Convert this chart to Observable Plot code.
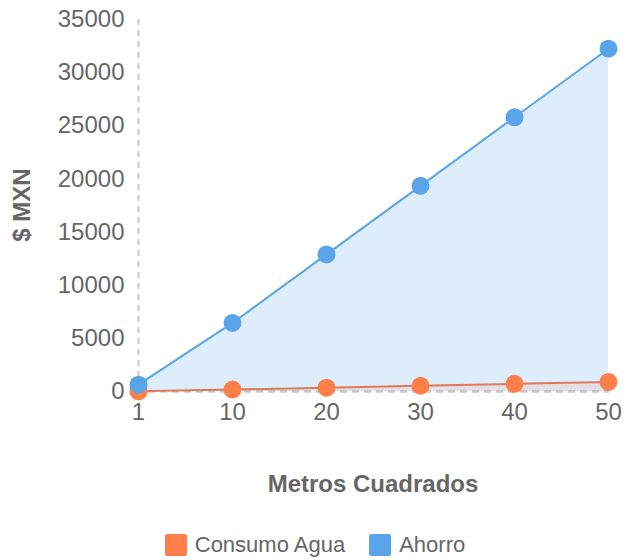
<!DOCTYPE html>
<html>
<head>
<meta charset="utf-8">
<script src="https://cdn.jsdelivr.net/npm/d3@7"></script>
<script src="https://cdn.jsdelivr.net/npm/@observablehq/plot@0.6"></script>
<style>
  body { margin: 0; background: #fff; font-family: "Liberation Sans", Arial, sans-serif; }
  #legend { display: flex; justify-content: center; gap: 24px; margin-top: 32px; margin-left: 4px; font-size: 22px; color: #666; }
  .item { display: flex; align-items: center; gap: 8px; }
  .sw { width: 22px; height: 22px; border-radius: 2px; }
</style>
</head>
<body>
<div id="chart"></div>
<div id="legend"></div>
<script>
const categories = ["1", "10", "20", "30", "40", "50"];
const consumoAgua = [18, 180, 360, 540, 720, 900];
const ahorro = [645, 6450, 12900, 19350, 25800, 32250];
const seriesNames = ["Consumo Agua", "Ahorro"];
const seriesColors = ["#FF7F4A", "#5AA5E9"];
const yTicks = [0, 5000, 10000, 15000, 20000, 25000, 30000, 35000];

const consumoData = categories.map((c, i) => ({x: c, y: consumoAgua[i]}));
const ahorroData = categories.map((c, i) => ({x: c, y: ahorro[i]}));

const chart = Plot.plot({
  width: 626,
  height: 500,
  marginLeft: 136,
  marginRight: 17,
  marginTop: 19,
  marginBottom: 109,
  style: {fontFamily: "'Liberation Sans', Arial, sans-serif", fontSize: "24px", color: "#666", background: "#fff"},
  x: {type: "point", domain: categories, padding: 0, axis: null},
  y: {domain: [0, 35000], axis: null},
  marks: [
    Plot.ruleX([categories[0]], {stroke: "#c8c8c8", strokeWidth: 2, strokeDasharray: "6,5"}),
    Plot.ruleY([0], {stroke: "#c8c8c8", strokeWidth: 2.5, strokeDasharray: "7,5"}),
    Plot.areaY(ahorroData, {x: "x", y: "y", fill: seriesColors[1], fillOpacity: 0.2}),
    Plot.areaY(consumoData, {x: "x", y: "y", fill: seriesColors[0], fillOpacity: 0.12}),
    Plot.line(consumoData, {x: "x", y: "y", stroke: "#E0785A", strokeWidth: 2}),
    Plot.line(ahorroData, {x: "x", y: "y", stroke: seriesColors[1], strokeWidth: 2}),
    Plot.dot(consumoData, {x: "x", y: "y", r: 9, fill: seriesColors[0]}),
    Plot.dot(ahorroData, {x: "x", y: "y", r: 9, fill: seriesColors[1]}),
    Plot.axisY(yTicks, {tickSize: 0, tickPadding: 12, fontSize: 24, fill: "#666", label: null, tickFormat: d => String(d)}),
    Plot.axisX(categories, {tickSize: 0, tickPadding: 11, fontSize: 24, fill: "#666", label: null})
  ]
});
document.getElementById("chart").appendChild(chart);

const svg = d3.select(chart);
svg.append("text")
  .attr("x", 373).attr("y", 484).attr("dy", "0.35em")
  .attr("text-anchor", "middle").attr("font-size", 24).attr("font-weight", "bold").attr("fill", "#666")
  .text("Metros Cuadrados");
svg.append("text")
  .attr("transform", "translate(22,205) rotate(-90)").attr("dy", "0.35em")
  .attr("text-anchor", "middle").attr("font-size", 24).attr("font-weight", "bold").attr("fill", "#666")
  .text("$ MXN");

const legend = document.getElementById("legend");
seriesNames.forEach((n, i) => {
  const it = document.createElement("div");
  it.className = "item";
  it.innerHTML = `<span class="sw" style="background:${seriesColors[i]}"></span><span>${n}</span>`;
  legend.appendChild(it);
});
</script>
</body>
</html>
